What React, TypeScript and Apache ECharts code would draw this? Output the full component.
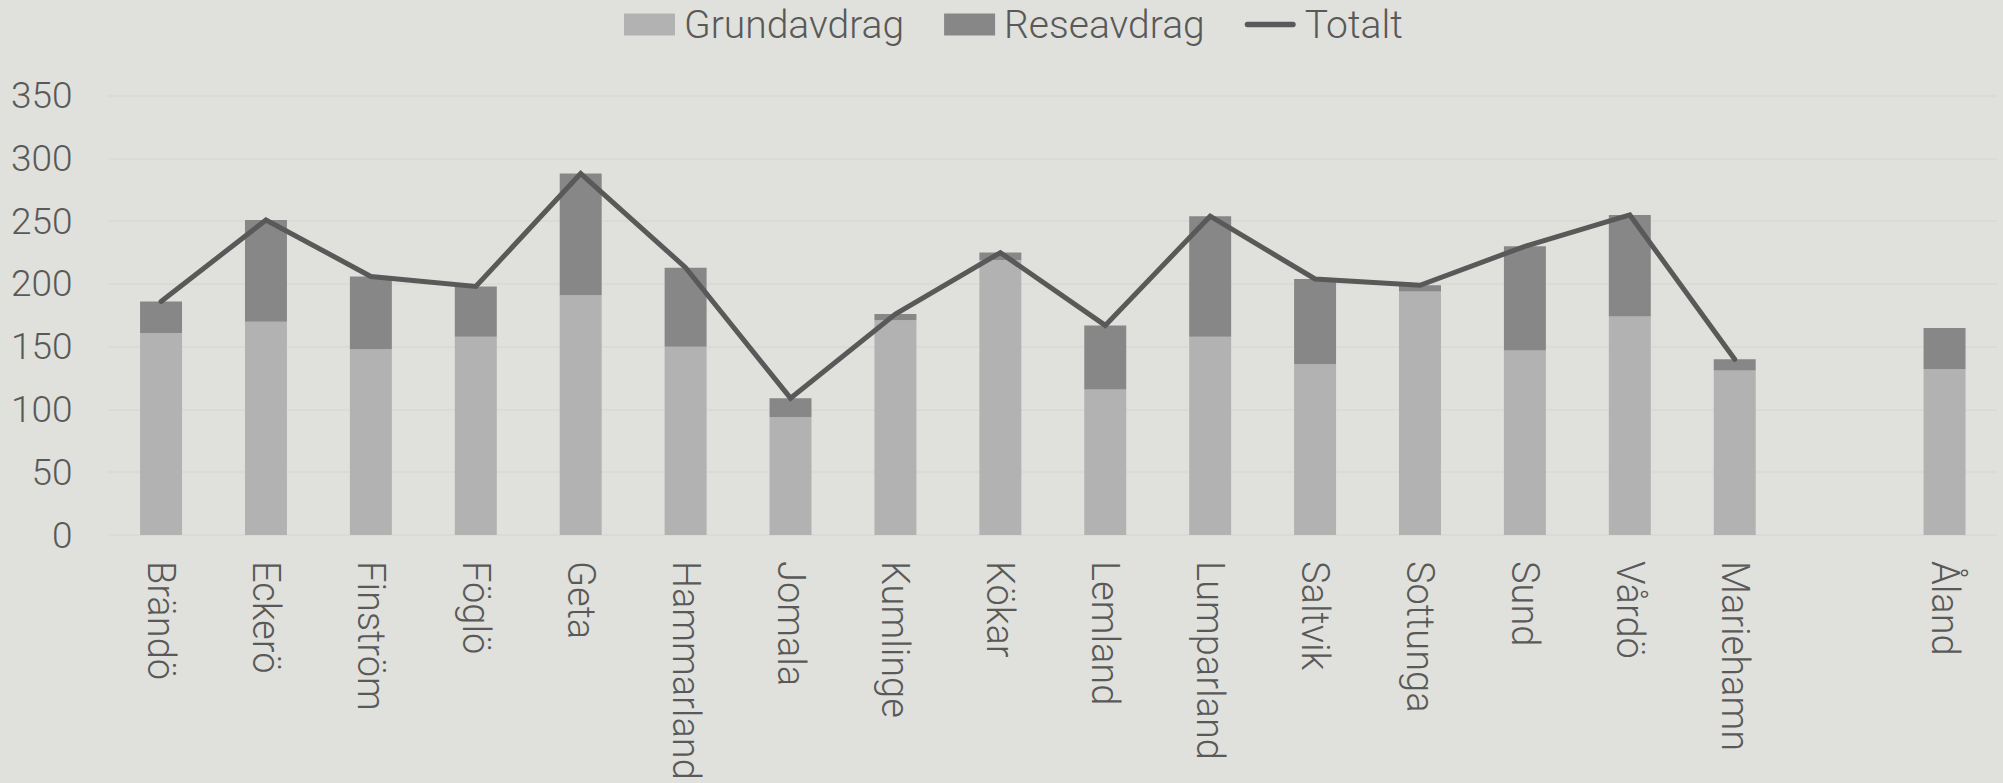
import React, { useEffect, useRef } from "react";
import * as echarts from "echarts";

const categories = ["Brändö", "Eckerö", "Finström", "Föglö", "Geta", "Hammarland", "Jomala", "Kumlinge", "Kökar", "Lemland", "Lumparland", "Saltvik", "Sottunga", "Sund", "Vårdö", "Mariehamn", "", "Åland"];
const grundavdrag = [161, 170, 148, 158, 191, 150, 94, 171, 219, 116, 158, 136, 194, 147, 174, 131, null, 132];
const reseavdrag = [25, 81, 58, 40, 97, 63, 15, 5, 6, 51, 96, 68, 5, 83, 81, 9, null, 33];
const totalt = [186, 251, 206, 198, 288, 213, 109, 176, 225, 167, 254, 204, 199, 230, 255, 140, null, null];
const yTicks = [0, 50, 100, 150, 200, 250, 300, 350];

const FONT = "Roboto";
const TEXT = "#595959";

export default function App() {
  const ref = useRef<HTMLDivElement>(null);
  useEffect(() => {
    if (!ref.current) return;
    const chart = echarts.init(ref.current, null, { renderer: "svg" });
    chart.setOption({
      animation: false,
      backgroundColor: "#E0E1DC",
      textStyle: { fontFamily: FONT, fontWeight: 300, color: TEXT },
      legend: {
        left: 619,
        top: 0,
        itemWidth: 51,
        itemHeight: 22,
        itemGap: 40,
        textStyle: { fontFamily: FONT, fontWeight: 300, fontSize: 39, color: TEXT, padding: [0, 0, 0, 4] },
        data: [
          { name: "Grundavdrag", icon: "rect" },
          { name: "Reseavdrag", icon: "rect" },
          { name: "Totalt", icon: "path://M3,8 L53,8 A3,3 0 0 1 53,14 L3,14 A3,3 0 0 1 3,8 Z M0,0 L0,0 M56,22 L56,22", itemStyle: { color: "#595959" } },
        ],
      },
      grid: { left: 108.6, right: 6, top: 95.7, bottom: 248, containLabel: false },
      xAxis: {
        type: "category",
        data: categories,
        axisLine: { show: false },
        axisTick: { show: false },
        axisLabel: {
          rotate: -90,
          interval: 0,
          margin: 26,
          fontFamily: FONT,
          fontWeight: 300,
          fontSize: 38,
          color: TEXT,
        },
      },
      yAxis: {
        type: "value",
        min: 0,
        max: 350,
        interval: 50,
        axisLine: { show: false },
        axisTick: { show: false },
        axisLabel: {
          margin: 36,
          fontFamily: FONT,
          fontWeight: 300,
          fontSize: 37,
          color: TEXT,
          formatter: (v: number) => (yTicks.includes(v) ? String(v) : ""),
        },
        splitLine: { lineStyle: { color: "#D8D9D5", width: 1.5 } },
      },
      series: [
        {
          name: "Grundavdrag",
          type: "bar",
          stack: "tot",
          data: grundavdrag,
          barCategoryGap: "60%",
          itemStyle: { color: "#B2B2B2" },
        },
        {
          name: "Reseavdrag",
          type: "bar",
          stack: "tot",
          data: reseavdrag,
          barCategoryGap: "60%",
          itemStyle: { color: "#878787" },
        },
        {
          name: "Totalt",
          type: "line",
          data: totalt,
          symbol: "none",
          connectNulls: false,
          lineStyle: { color: "#595959", width: 5, cap: "round", join: "miter" },
          itemStyle: { color: "#595959" },
        },
      ],
    });
    return () => chart.dispose();
  }, []);
  return <div ref={ref} style={{ position: "fixed", left: 0, top: 0, width: 2003, height: 783 }} />;
}
